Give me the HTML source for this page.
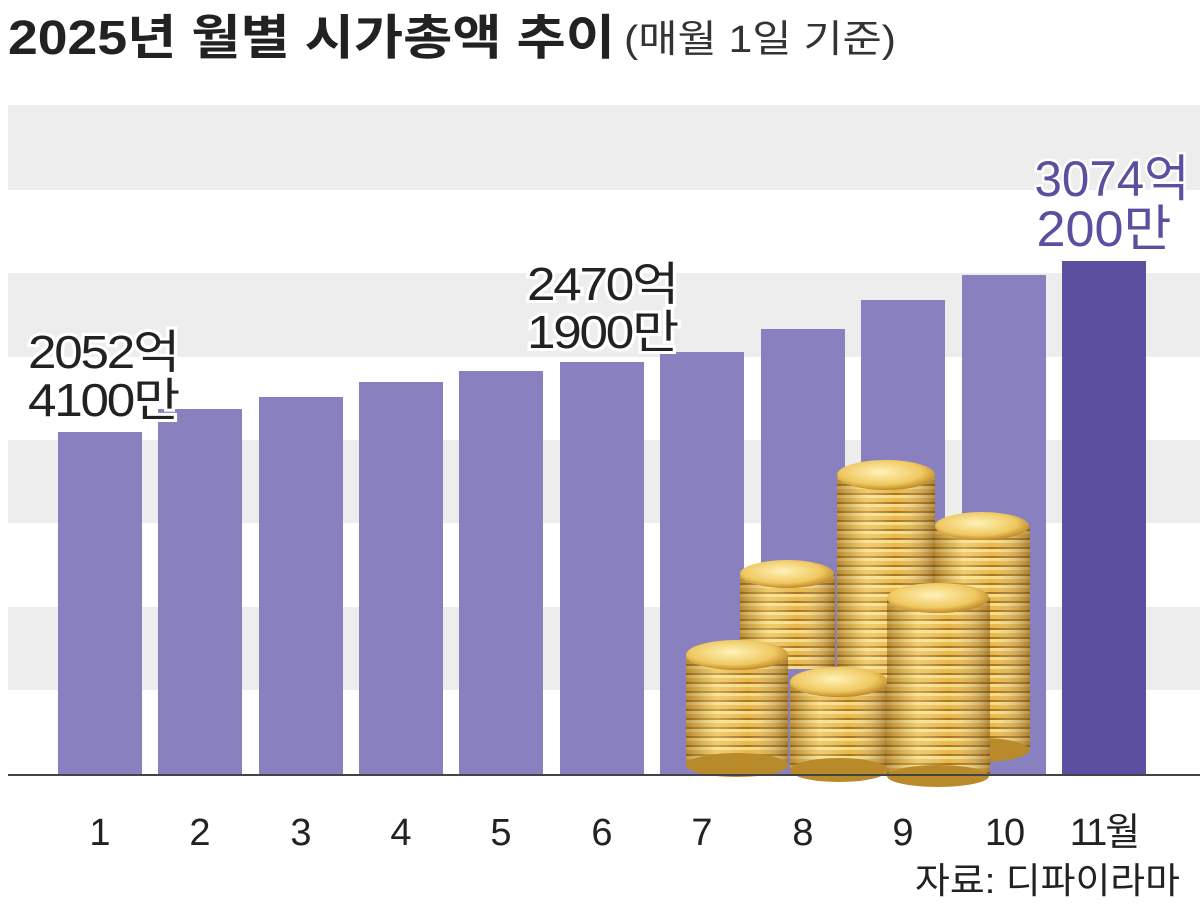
<!DOCTYPE html>
<html><head><meta charset="utf-8"><style>
body{margin:0;background:#fff;}
svg text{font-family:"Liberation Sans","Noto Sans CJK KR",sans-serif;}
</style></head><body>
<svg width="1200" height="904" viewBox="0 0 1200 904" xmlns="http://www.w3.org/2000/svg">
<defs>
<pattern id="st" width="10" height="9" patternUnits="userSpaceOnUse">
<rect width="10" height="9" fill="#e8b84a"/>
<rect y="0" width="10" height="3" fill="#f7dc86"/>
<rect y="7" width="10" height="2" fill="#a8751c"/>
</pattern>
<linearGradient id="sh" x1="0" x2="1">
<stop offset="0" stop-color="#7a4e10" stop-opacity=".45"/>
<stop offset=".3" stop-color="#fff3b0" stop-opacity=".35"/>
<stop offset=".6" stop-color="#fff" stop-opacity="0"/>
<stop offset="1" stop-color="#6a420c" stop-opacity=".5"/>
</linearGradient>
<radialGradient id="tp" cx=".45" cy=".4" r=".6">
<stop offset="0" stop-color="#fff2b8"/><stop offset=".7" stop-color="#efc860"/><stop offset="1" stop-color="#c08a2a"/>
</radialGradient>
</defs>
<text x="8" y="54" font-size="48" font-weight="bold" fill="#222" textLength="607" lengthAdjust="spacingAndGlyphs">2025년 월별 시가총액 추이</text>
<text x="624" y="52" font-size="38" fill="#333" textLength="272" lengthAdjust="spacingAndGlyphs">(매월 1일 기준)</text>
<g fill="#ededed">
<rect x="8" y="105" width="1192" height="85"/>
<rect x="8" y="273" width="1192" height="84"/>
<rect x="8" y="440" width="1192" height="83"/>
<rect x="8" y="607" width="1192" height="83"/>
</g>
<g fill="#8880bf">
<rect x="58" y="432" width="84" height="343"/>
<rect x="158" y="409" width="84" height="366"/>
<rect x="259" y="397" width="84" height="378"/>
<rect x="359" y="382" width="84" height="393"/>
<rect x="459" y="371" width="84" height="404"/>
<rect x="560" y="362" width="84" height="413"/>
<rect x="660" y="352" width="84" height="423"/>
<rect x="761" y="329" width="84" height="446"/>
<rect x="861" y="300" width="84" height="475"/>
<rect x="962" y="275" width="84" height="500"/>
</g>
<rect x="1062" y="261" width="84" height="514" fill="#5c4fa0"/>
<g>
<g><rect x="837" y="475" width="98" height="205" fill="url(#st)"/><rect x="837" y="475" width="98" height="205" fill="url(#sh)"/><ellipse cx="886" cy="475" rx="49" ry="15" fill="url(#tp)"/></g>
<g><rect x="935" y="526" width="95" height="224" fill="url(#st)"/><rect x="935" y="526" width="95" height="224" fill="url(#sh)"/><ellipse cx="982" cy="750" rx="47" ry="12" fill="#b88a2a"/><ellipse cx="982" cy="526" rx="47" ry="14" fill="url(#tp)"/></g>
<g><rect x="740" y="574" width="95" height="95" fill="url(#st)"/><rect x="740" y="574" width="95" height="95" fill="url(#sh)"/><ellipse cx="787" cy="574" rx="47" ry="14" fill="url(#tp)"/></g>
<g><rect x="686" y="655" width="102" height="110" fill="url(#st)"/><rect x="686" y="655" width="102" height="110" fill="url(#sh)"/><ellipse cx="737" cy="765" rx="51" ry="12" fill="#b88a2a"/><ellipse cx="737" cy="655" rx="51" ry="15" fill="url(#tp)"/></g>
<g><rect x="790" y="682" width="98" height="88" fill="url(#st)"/><rect x="790" y="682" width="98" height="88" fill="url(#sh)"/><ellipse cx="839" cy="770" rx="49" ry="12" fill="#b88a2a"/><ellipse cx="839" cy="682" rx="49" ry="15" fill="url(#tp)"/></g>
<g><rect x="887" y="598" width="103" height="178" fill="url(#st)"/><rect x="887" y="598" width="103" height="178" fill="url(#sh)"/><ellipse cx="938" cy="776" rx="51" ry="11" fill="#b88a2a"/><ellipse cx="938" cy="598" rx="51" ry="15" fill="url(#tp)"/></g>
</g>
<line x1="8" y1="775" x2="1200" y2="775" stroke="#444" stroke-width="2"/>
<g font-size="46" fill="#222" text-anchor="middle" letter-spacing="-2" stroke="#fff" stroke-width="6" paint-order="stroke">
<text x="103" y="368" textLength="150" lengthAdjust="spacingAndGlyphs">2052억</text>
<text x="103" y="416" textLength="150" lengthAdjust="spacingAndGlyphs">4100만</text>
<text x="602" y="300" textLength="150" lengthAdjust="spacingAndGlyphs">2470억</text>
<text x="602" y="348" textLength="150" lengthAdjust="spacingAndGlyphs">1900만</text>
</g>
<g font-size="50" fill="#5c4fa0" text-anchor="middle" stroke="#fff" stroke-width="5" paint-order="stroke">
<text x="1112" y="196" textLength="155" lengthAdjust="spacingAndGlyphs">3074억</text>
<text x="1104" y="246" textLength="135" lengthAdjust="spacingAndGlyphs">200만</text>
</g>
<g font-size="38" fill="#222" text-anchor="middle">
<text x="100" y="845">1</text><text x="200" y="845">2</text><text x="301" y="845">3</text>
<text x="401" y="845">4</text><text x="501" y="845">5</text><text x="602" y="845">6</text>
<text x="702" y="845">7</text><text x="803" y="845">8</text><text x="903" y="845">9</text>
<text x="1004" y="845" letter-spacing="-2">10</text><text x="1104" y="845" letter-spacing="-2">11월</text>
</g>
<text x="915" y="893" font-size="36" fill="#222" textLength="265" lengthAdjust="spacingAndGlyphs">자료: 디파이라마</text>
</svg>
</body></html>
